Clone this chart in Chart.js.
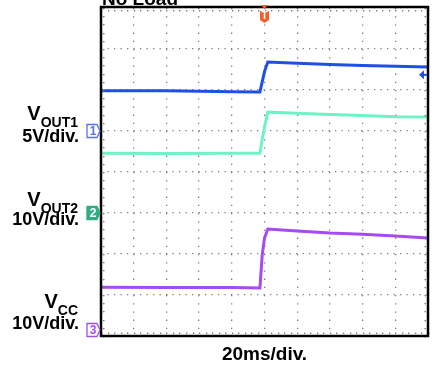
<!DOCTYPE html>
<html>
<head>
<meta charset="utf-8">
<script src="https://cdn.jsdelivr.net/npm/chart.js@4.4.1/dist/chart.umd.min.js"></script>
<style>
  body { margin: 0; background: #fff; }
  canvas { display: block; }
</style>
</head>
<body>
<canvas id="scope" width="432" height="366"></canvas>
<script>
// time axis in screen divisions (20ms/div), 0..10
const timeDiv = [0, 2, 4, 4.86, 4.93, 5.0, 5.1, 6, 7, 8, 9, 10];
// trace heights in screen divisions from the bottom, 0..8
const vout1Div = [5.98, 5.98, 5.96, 5.95, 6.2, 6.45, 6.68, 6.65, 6.62, 6.6, 6.58, 6.56];
const vout2Div = [4.46, 4.45, 4.46, 4.46, 4.8, 5.1, 5.46, 5.43, 5.4, 5.38, 5.35, 5.34];
const vccDiv = [1.19, 1.18, 1.18, 1.17, 1.98, 2.39, 2.61, 2.56, 2.51, 2.48, 2.44, 2.39];

const channelNames = [['V', 'OUT1'], ['V', 'OUT2'], ['V', 'CC']];
const channelScales = ['5V/div.', '10V/div.', '10V/div.'];
const channelGround = [5, 3, 0];      // channel marker level, divisions
const ch1RefDiv = 6.37;               // right hand arrow of channel 1
const triggerDiv = 5;                 // trigger position on time axis
const timeScaleLabel = '20ms/div.';
const titleText = 'No Load';

const colors = {
  vout1: '#1f4fe6',
  vout2: '#6ff2c8',
  vcc: '#a64af2',
  trig: '#f2602e',
  grid: '#7d7d7d'
};

const pts = (ys) => timeDiv.map((t, i) => ({ x: t, y: ys[i] }));

// frame, edge ticks, channel markers and side labels
const scopeDecor = {
  id: 'scopeDecor',
  afterDraw(chart) {
    const ctx = chart.ctx;
    const a = chart.chartArea;
    const xs = chart.scales.x, ys = chart.scales.y;
    ctx.save();

    // small ticks along the inner edge of the frame
    ctx.fillStyle = colors.grid;
    for (let d = 0; d <= 50; d++) {
      const x = xs.getPixelForValue(d / 5);
      ctx.fillRect(Math.round(x), a.top + 2, 1.3, 1.5);
      ctx.fillRect(Math.round(x), a.bottom - 3.5, 1.3, 1.5);
    }
    for (let d = 0; d <= 40; d++) {
      const y = ys.getPixelForValue(d / 5);
      ctx.fillRect(a.left + 2, Math.round(y), 1.5, 1.3);
      ctx.fillRect(a.right - 3.5, Math.round(y), 1.5, 1.3);
    }

    // frame
    ctx.strokeStyle = '#000';
    ctx.lineWidth = 2.5;
    ctx.strokeRect(a.left, a.top - 1, a.right - a.left, a.bottom - a.top + 1);

    // trigger marker
    const tx = xs.getPixelForValue(triggerDiv);
    ctx.fillStyle = colors.trig;
    ctx.beginPath();
    ctx.moveTo(tx - 3.5, a.top - 3);
    ctx.lineTo(tx + 3.5, a.top - 3);
    ctx.lineTo(tx, a.top + 1);
    ctx.closePath();
    ctx.fill();
    ctx.beginPath();
    ctx.moveTo(tx - 4.5, a.top + 3);
    ctx.lineTo(tx + 4.5, a.top + 3);
    ctx.lineTo(tx + 4.5, a.top + 12);
    ctx.lineTo(tx, a.top + 15);
    ctx.lineTo(tx - 4.5, a.top + 12);
    ctx.closePath();
    ctx.fill();
    ctx.fillStyle = '#fff';
    ctx.font = 'bold 10px "Liberation Sans", Arial, sans-serif';
    ctx.textAlign = 'center';
    ctx.textBaseline = 'middle';
    ctx.fillText('T', tx, a.top + 8.5);

    // channel 1 arrow on the right edge
    const ry = ys.getPixelForValue(ch1RefDiv);
    ctx.fillStyle = colors.vout1;
    ctx.beginPath();
    ctx.moveTo(a.right - 9, ry);
    ctx.lineTo(a.right - 4, ry - 4.5);
    ctx.lineTo(a.right - 4, ry + 4.5);
    ctx.closePath();
    ctx.fill();
    ctx.fillRect(a.right - 5, ry - 1, 4, 2);

    // channel markers on the left edge
    const markerStyle = [
      { stroke: '#5b6ff2', fill: '#fff', text: '#5b6ff2' },
      { stroke: '#2fae80', fill: '#2fae80', text: '#fff' },
      { stroke: '#a050f0', fill: '#fff', text: '#a050f0' }
    ];
    channelGround.forEach((g, i) => {
      let cy = ys.getPixelForValue(g);
      cy = Math.min(cy, a.bottom - 6);
      const s = markerStyle[i];
      const x0 = a.left - 14, x1 = a.left - 4;
      ctx.beginPath();
      ctx.moveTo(x0, cy - 6.5);
      ctx.lineTo(x1, cy - 6.5);
      ctx.lineTo(a.left - 1, cy);
      ctx.lineTo(x1, cy + 6.5);
      ctx.lineTo(x0, cy + 6.5);
      ctx.closePath();
      ctx.fillStyle = s.fill;
      ctx.fill();
      ctx.lineWidth = 1.3;
      ctx.strokeStyle = s.stroke;
      ctx.stroke();
      ctx.fillStyle = s.text;
      ctx.font = 'bold 12px "Liberation Sans", Arial, sans-serif';
      ctx.textAlign = 'center';
      ctx.textBaseline = 'middle';
      ctx.fillText(String(i + 1), x0 + 6, cy + 0.5);
    });

    // channel names and scales
    const nameBase = [120, 206, 308];
    const scaleBase = [142, 225, 329];
    const rightX = 78;
    ctx.fillStyle = '#000';
    ctx.textBaseline = 'alphabetic';
    ctx.textAlign = 'left';
    channelNames.forEach((n, i) => {
      ctx.font = 'bold 14px "Liberation Sans", Arial, sans-serif';
      const subW = ctx.measureText(n[1]).width;
      ctx.font = 'bold 20px "Liberation Sans", Arial, sans-serif';
      const mainW = ctx.measureText(n[0]).width;
      const x = rightX - subW - mainW;
      ctx.fillText(n[0], x, nameBase[i]);
      ctx.font = 'bold 14px "Liberation Sans", Arial, sans-serif';
      ctx.fillText(n[1], x + mainW, nameBase[i] + 7);
      ctx.font = 'bold 18px "Liberation Sans", Arial, sans-serif';
      ctx.textAlign = 'right';
      ctx.fillText(channelScales[i], rightX + 1, scaleBase[i]);
      ctx.textAlign = 'left';
    });

    // clipped heading above the screen
    ctx.font = 'bold 19px "Liberation Sans", Arial, sans-serif';
    ctx.fillText(titleText, 102, 5);

    ctx.restore();
  }
};

const traceStyle = (color) => ({
  borderColor: color,
  borderWidth: 3,
  pointRadius: 0,
  tension: 0,
  fill: false
});

new Chart(document.getElementById('scope'), {
  type: 'line',
  data: {
    datasets: [
      { label: 'VOUT1', data: pts(vout1Div), ...traceStyle(colors.vout1) },
      { label: 'VOUT2', data: pts(vout2Div), ...traceStyle(colors.vout2) },
      { label: 'VCC', data: pts(vccDiv), ...traceStyle(colors.vcc) }
    ]
  },
  options: {
    responsive: false,
    animation: false,
    devicePixelRatio: 1,
    layout: { padding: { left: 101, right: 4, top: 8, bottom: 0 } },
    plugins: {
      legend: { display: false },
      tooltip: { enabled: false }
    },
    scales: {
      x: {
        type: 'linear',
        min: 0,
        max: 10,
        ticks: { display: false, stepSize: 1 },
        grid: { color: colors.grid, lineWidth: 1.3, drawTicks: false },
        border: { display: false, dash: [1.3, 6.9] },
        title: {
          display: true,
          text: timeScaleLabel,
          color: '#000',
          padding: 0,
          font: { family: '"Liberation Sans", Arial, sans-serif', size: 19, weight: 'bold' }
        },
        afterFit: (s) => { s.height = 30; }
      },
      y: {
        type: 'linear',
        min: 0,
        max: 8,
        ticks: { display: false, stepSize: 1 },
        grid: { color: colors.grid, lineWidth: 1.3, drawTicks: false },
        border: { display: false, dash: [1.3, 5.2] },
        afterFit: (s) => { s.width = 0; }
      }
    }
  },
  plugins: [scopeDecor]
});
</script>
</body>
</html>
